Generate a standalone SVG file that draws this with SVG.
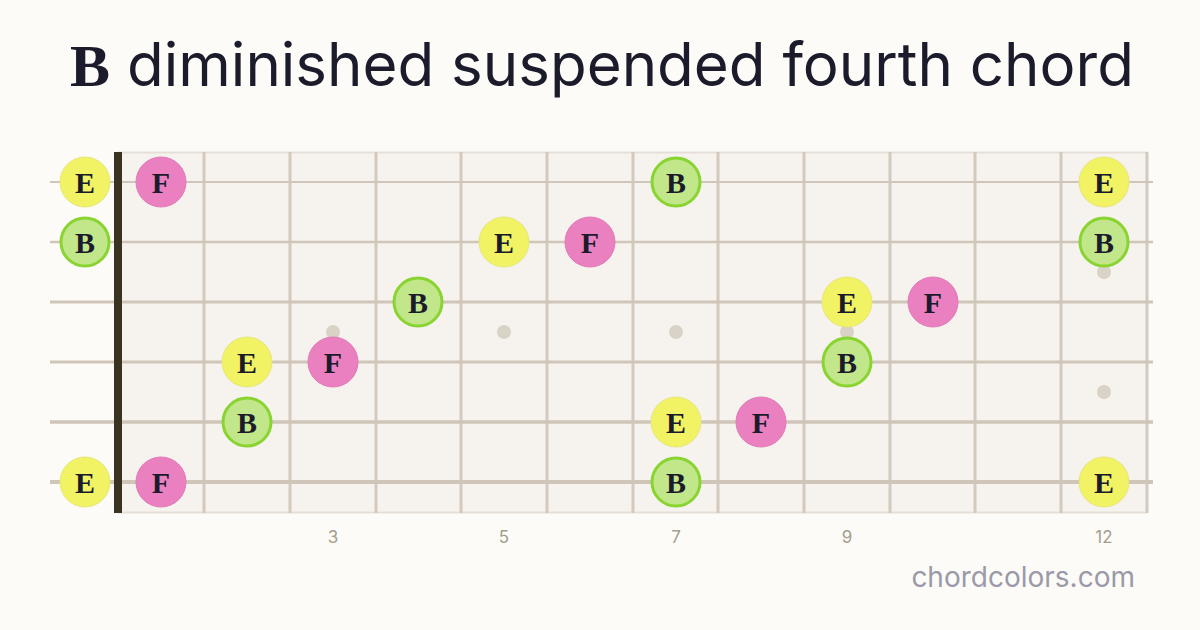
<svg xmlns="http://www.w3.org/2000/svg" width="1200" height="630" viewBox="0 0 1200 630">
<style>
.fret{stroke:#d3cabd;stroke-width:3}
.str{stroke:#cfc5b8}
.dot{fill:#d9d2c6}
.note text{font-family:"Liberation Serif","DejaVu Serif",serif;font-weight:bold;font-size:30px;fill:#1b1b2b;text-anchor:middle}
.E circle{fill:#f1f264;stroke:#e6e77a;stroke-width:1}
.B circle{fill:#c2e68a;stroke:#8ad432;stroke-width:3}
.F circle{fill:#ea80bf;stroke:#e07ab6;stroke-width:1}
.num{font-family:Inter,"Liberation Sans",sans-serif;font-size:17px;fill:#a49e8c;text-anchor:middle}
</style>
<rect width="1200" height="630" fill="#fcfbf8"/>
<text x="602" y="86" text-anchor="middle" font-family="Inter,'Liberation Sans',sans-serif" font-size="60" fill="#1b1b2b" font-weight="400"><tspan font-family="'Liberation Serif',serif" font-weight="bold">B</tspan> diminished suspended fourth chord</text>
<g id="board">
<rect x="118" y="152" width="1029" height="361" fill="#f6f3ef"/>
<line x1="118" y1="152.5" x2="1147" y2="152.5" stroke="#e5dfd7" stroke-width="2"/>
<line x1="118" y1="512.5" x2="1147" y2="512.5" stroke="#e5dfd7" stroke-width="2"/>
<g id="frets">
<line class="fret" x1="204" y1="152" x2="204" y2="513"/>
<line class="fret" x1="290" y1="152" x2="290" y2="513"/>
<line class="fret" x1="376" y1="152" x2="376" y2="513"/>
<line class="fret" x1="461" y1="152" x2="461" y2="513"/>
<line class="fret" x1="547" y1="152" x2="547" y2="513"/>
<line class="fret" x1="633" y1="152" x2="633" y2="513"/>
<line class="fret" x1="718" y1="152" x2="718" y2="513"/>
<line class="fret" x1="804" y1="152" x2="804" y2="513"/>
<line class="fret" x1="890" y1="152" x2="890" y2="513"/>
<line class="fret" x1="975" y1="152" x2="975" y2="513"/>
<line class="fret" x1="1061" y1="152" x2="1061" y2="513"/>
<line class="fret" x1="1147" y1="152" x2="1147" y2="513"/>
</g>
<g id="markers">
<circle class="dot" cx="333" cy="332" r="7"/>
<circle class="dot" cx="504" cy="332" r="7"/>
<circle class="dot" cx="676" cy="332" r="7"/>
<circle class="dot" cx="847" cy="332" r="7"/>
<circle class="dot" cx="1104" cy="272" r="7"/>
<circle class="dot" cx="1104" cy="392" r="7"/>
</g>
<g id="strings">
<line class="str" x1="50" y1="182" x2="1153" y2="182" stroke-width="2"/>
<line class="str" x1="50" y1="242" x2="1153" y2="242" stroke-width="2.4"/>
<line class="str" x1="50" y1="302" x2="1153" y2="302" stroke-width="2.8"/>
<line class="str" x1="50" y1="362" x2="1153" y2="362" stroke-width="3.2"/>
<line class="str" x1="50" y1="422" x2="1153" y2="422" stroke-width="3.6"/>
<line class="str" x1="50" y1="482" x2="1153" y2="482" stroke-width="4"/>
</g>
<rect id="nut" x="114" y="152" width="8" height="361" fill="#3a3322"/>
</g>
<g id="notes">
<g id="n1-0" class="note E"><circle cx="85" cy="182" r="25"/><text x="85" y="193">E</text></g>
<g id="n1-1" class="note F"><circle cx="161" cy="182" r="25"/><text x="161" y="193">F</text></g>
<g id="n1-7" class="note B"><circle cx="676" cy="182" r="24"/><text x="676" y="193">B</text></g>
<g id="n1-12" class="note E"><circle cx="1104" cy="182" r="25"/><text x="1104" y="193">E</text></g>
<g id="n2-0" class="note B"><circle cx="85" cy="242" r="24"/><text x="85" y="253">B</text></g>
<g id="n2-5" class="note E"><circle cx="504" cy="242" r="25"/><text x="504" y="253">E</text></g>
<g id="n2-6" class="note F"><circle cx="590" cy="242" r="25"/><text x="590" y="253">F</text></g>
<g id="n2-12" class="note B"><circle cx="1104" cy="242" r="24"/><text x="1104" y="253">B</text></g>
<g id="n3-4" class="note B"><circle cx="418" cy="302" r="24"/><text x="418" y="313">B</text></g>
<g id="n3-9" class="note E"><circle cx="847" cy="302" r="25"/><text x="847" y="313">E</text></g>
<g id="n3-10" class="note F"><circle cx="933" cy="302" r="25"/><text x="933" y="313">F</text></g>
<g id="n4-2" class="note E"><circle cx="247" cy="362" r="25"/><text x="247" y="373">E</text></g>
<g id="n4-3" class="note F"><circle cx="333" cy="362" r="25"/><text x="333" y="373">F</text></g>
<g id="n4-9" class="note B"><circle cx="847" cy="362" r="24"/><text x="847" y="373">B</text></g>
<g id="n5-2" class="note B"><circle cx="247" cy="422" r="24"/><text x="247" y="433">B</text></g>
<g id="n5-7" class="note E"><circle cx="676" cy="422" r="25"/><text x="676" y="433">E</text></g>
<g id="n5-8" class="note F"><circle cx="761" cy="422" r="25"/><text x="761" y="433">F</text></g>
<g id="n6-0" class="note E"><circle cx="85" cy="482" r="25"/><text x="85" y="493">E</text></g>
<g id="n6-1" class="note F"><circle cx="161" cy="482" r="25"/><text x="161" y="493">F</text></g>
<g id="n6-7" class="note B"><circle cx="676" cy="482" r="24"/><text x="676" y="493">B</text></g>
<g id="n6-12" class="note E"><circle cx="1104" cy="482" r="25"/><text x="1104" y="493">E</text></g>
</g>
<g id="fretnums">
<text class="num" x="333" y="543">3</text>
<text class="num" x="504" y="543">5</text>
<text class="num" x="676" y="543">7</text>
<text class="num" x="847" y="543">9</text>
<text class="num" x="1104" y="543">12</text>
</g>
<text x="1135" y="587" text-anchor="end" font-family="Inter,'Liberation Sans',sans-serif" font-size="28" fill="#9a9aa8">chordcolors.com</text>
</svg>
